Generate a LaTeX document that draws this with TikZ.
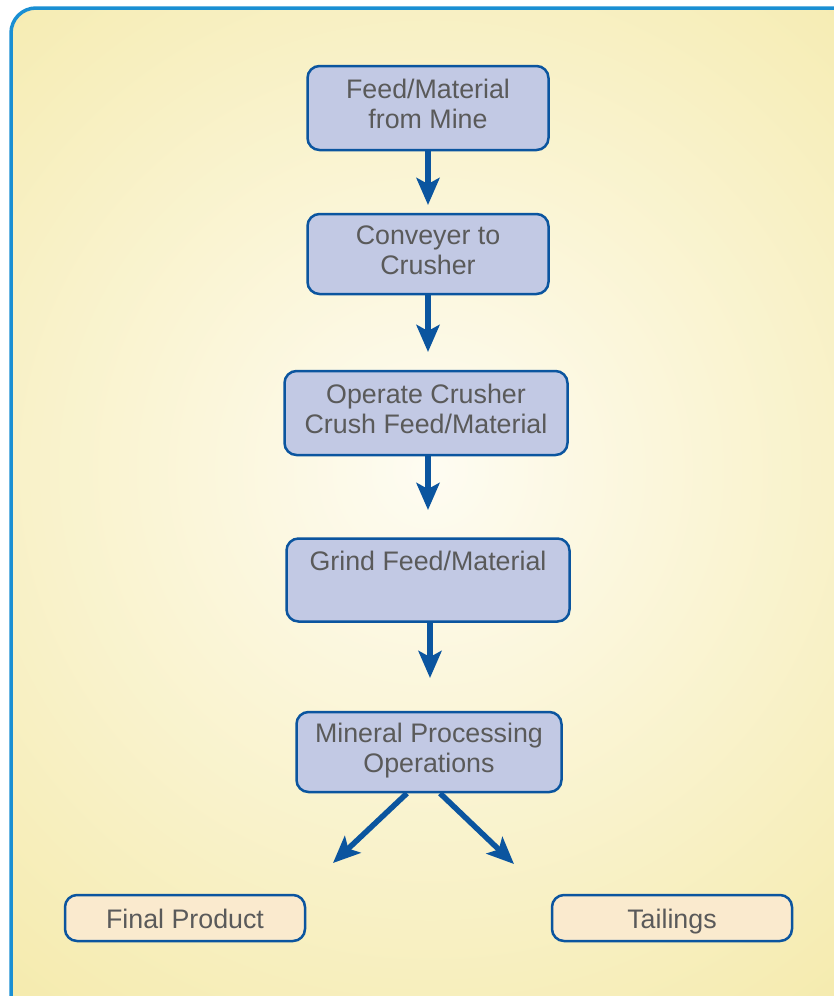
\documentclass[tikz,border=0pt]{standalone}
\usepackage{fontspec}
\setmainfont{Liberation Sans}
\usetikzlibrary{positioning,arrows.meta,shapes}
\definecolor{framecol}{HTML}{1A8FD3}
\definecolor{boxline}{HTML}{0B559F}
\definecolor{boxfill}{HTML}{C2C9E4}
\definecolor{endfill}{HTML}{FAEACE}
\definecolor{txtgray}{HTML}{5A5A5A}
\definecolor{paleyel}{HTML}{FEFCF2}
\definecolor{deepyel}{HTML}{F2E597}

\begin{document}
\begin{tikzpicture}
            [x=1pt, y=-1pt,
            font=\fontsize{26.8}{29.5}\selectfont,
            stage/.style={rectangle, rounded corners=12pt, draw=boxline,
            fill=boxfill, line width=2.5pt, text=txtgray, align=center,
            inner sep=0pt, text height=49pt, text depth=9pt},
            outcome/.style={stage, fill=endfill, minimum width=240pt,
            minimum height=46pt, text height=20pt, text depth=0pt},
            flow/.style={draw=boxline, line width=5.5pt,
            -{Stealth[length=27pt,width=23pt,inset=6pt]}}]
            \useasboundingbox (0,0) rectangle (834,996);
            % background panel
            \begin{scope}
                \clip[rounded corners=25pt] (11,8) rectangle (870,1030);
                \shade[inner color=paleyel, outer color=deepyel]
                    (430,470) circle[radius=900pt];
            \end{scope}
            \draw[framecol, line width=3.5pt, rounded corners=25pt]
                (11,8) rectangle (870,1030);
            % stages
            \node[stage, minimum width=241pt, minimum height=84pt] (mine)
                at (428,108) {Feed/Material\\from Mine};
            \node[stage, minimum width=241pt, minimum height=80pt] (conveyor)
                at (428,254) {Conveyer to\\Crusher};
            \node[stage, minimum width=283pt, minimum height=84pt] (crusher)
                at (426,413) {Operate Crusher\\Crush Feed/Material};
            \node[stage, minimum width=283pt, minimum height=83pt] (grind)
                at (428,580) {Grind Feed/Material\\~};
            \node[stage, minimum width=265pt, minimum height=80pt] (mineral)
                at (429,752) {Mineral Processing\\Operations};
            \node[outcome] (product) at (185,918) {Final Product};
            \node[outcome] (tailings) at (672,918) {Tailings};
            % arrow ends
            \coordinate (toconveyor) at (428,205);
            \coordinate (tocrusher) at (428,352);
            \coordinate (togrind) at (428,510);
            \coordinate (tomineral) at (430,678);
            \coordinate (toproduct) at (333,863);
            \coordinate (totailings) at (514,864);
            \draw[flow] (mine) -- (toconveyor);
            \draw[flow] (conveyor) -- (tocrusher);
            \draw[flow] (crusher.south -| togrind) -- (togrind);
            \draw[flow] (grind.south -| tomineral) -- (tomineral);
            \draw[flow] ([xshift=-22pt]mineral.south) -- (toproduct);
            \draw[flow] ([xshift=11pt]mineral.south) -- (totailings);
\end{tikzpicture}
\end{document}
